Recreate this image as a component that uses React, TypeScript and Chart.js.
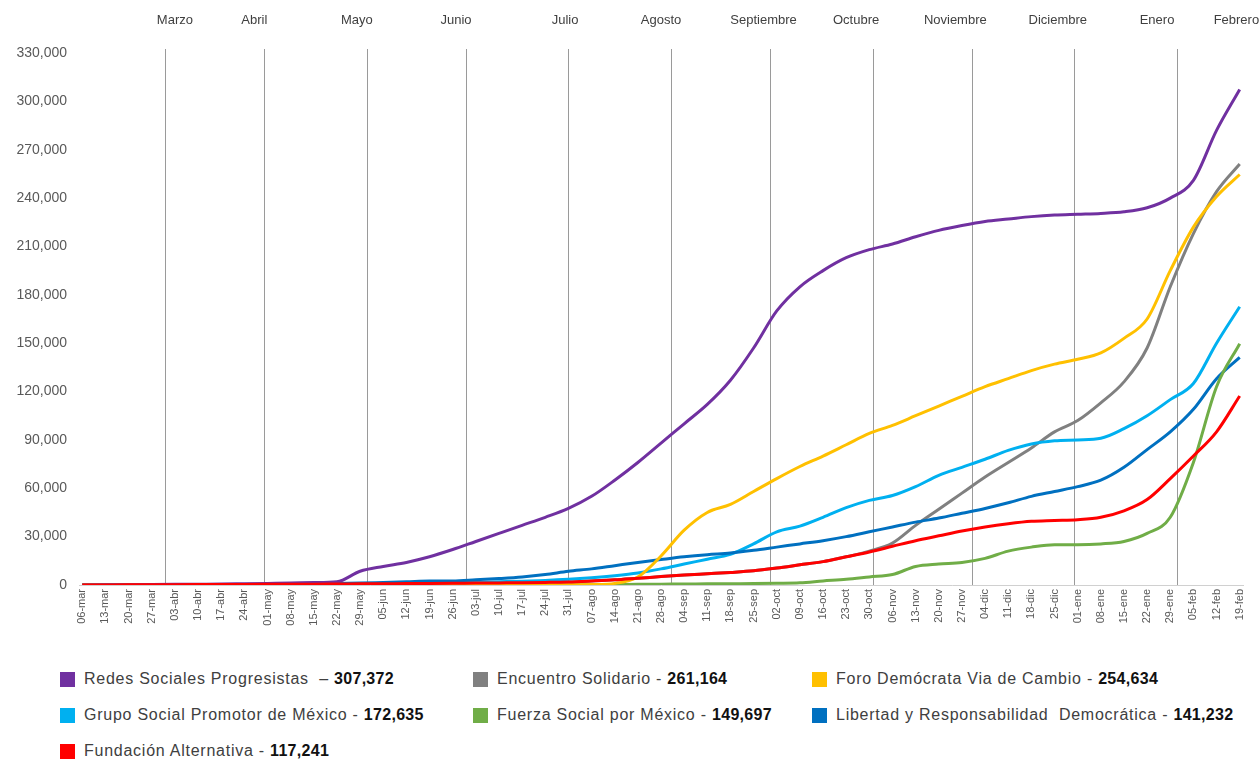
import React, { useEffect, useRef } from "react";
import { Chart, registerables } from "chart.js";

Chart.register(...registerables);

const FONT = "'Liberation Sans', Arial, sans-serif";

// Weekly date labels (2019-03-06 … 2020-02-19)
const weekLabels = [
  "06-mar", "13-mar", "20-mar", "27-mar", "03-abr", "10-abr", "17-abr", "24-abr",
  "01-may", "08-may", "15-may", "22-may", "29-may", "05-jun", "12-jun", "19-jun",
  "26-jun", "03-jul", "10-jul", "17-jul", "24-jul", "31-jul", "07-ago", "14-ago",
  "21-ago", "28-ago", "04-sep", "11-sep", "18-sep", "25-sep", "02-oct", "09-oct",
  "16-oct", "23-oct", "30-oct", "06-nov", "13-nov", "20-nov", "27-nov", "04-dic",
  "11-dic", "18-dic", "25-dic", "01-ene", "08-ene", "15-ene", "22-ene", "29-ene",
  "05-feb", "12-feb", "19-feb",
];

// Month names and the day (counted from 06-mar) of each month's last day
const monthNames = [
  "Marzo", "Abril", "Mayo", "Junio", "Julio", "Agosto", "Septiembre",
  "Octubre", "Noviembre", "Diciembre", "Enero", "Febrero",
];
const monthEndDays = [25, 55, 86, 116, 147, 178, 208, 239, 269, 300, 331];
const monthLabelDays = [28, 52, 83, 113, 146, 175, 206, 234, 264, 295, 325, 349];

const yTickStep = 30000;
const yMax = 330000;

// Series values (one per week label)
const redesSociales = [
  0, 100, 200, 300, 400, 500, 600, 800, 1000, 1200, 1500, 2000, 8500, 11500, 14000,
  17500, 22000, 27000, 32000, 37000, 42000, 47500, 55000, 65000, 76000, 88000,
  100000, 112000, 127000, 147000, 170000, 185000, 195000, 203000, 208000, 211500,
  216000, 220000, 223000, 225500, 227000, 228500, 229500, 230000, 230500, 231500,
  234000, 240000, 251000, 282000, 307372,
];
const fundacionAlternativa = [
  0, 50, 100, 150, 200, 250, 300, 350, 400, 450, 500, 600, 700, 800, 900, 1000,
  1100, 1200, 1300, 1400, 1600, 1900, 2500, 3200, 4200, 5200, 6200, 7000, 7800,
  8800, 10500, 12500, 14500, 17500, 20500, 24000, 27500, 30500, 33500, 36000,
  38000, 39500, 40000, 40500, 42000, 46000, 53000, 66000, 80000, 95000, 117241,
];
const encuentroSolidario = [
  0, 50, 100, 150, 200, 250, 300, 350, 400, 450, 500, 600, 700, 800, 900, 1000,
  1100, 1200, 1300, 1400, 1600, 1900, 2500, 3200, 4200, 5200, 6200, 7000, 7800,
  8800, 10500, 12500, 14500, 17500, 21000, 26000, 37000, 47000, 57000, 67000,
  76000, 85000, 95000, 102000, 113000, 126000, 147000, 185000, 218000, 244000,
  261164,
];
const foroDemocrata = [
  0, 0, 0, 0, 0, 0, 0, 0, 0, 0, 0, 0, 0, 0, 0, 0, 0, 0, 0, 0, 0, 100, 300, 1000,
  5000, 18000, 34000, 45000, 50000, 58000, 66000, 73500, 80000, 87000, 94000,
  99000, 105000, 111000, 117000, 123000, 128000, 133000, 137000, 140000, 144000,
  153000, 165000, 195000, 222000, 241000, 254634,
];
const grupoSocial = [
  0, 0, 0, 0, 0, 0, 0, 0, 0, 0, 0, 200, 400, 600, 800, 1000, 1300, 1600, 2000,
  2400, 2800, 3500, 4500, 5800, 7500, 10000, 13000, 16000, 19000, 25500, 33000,
  36500, 42000, 48000, 52500, 55500, 61000, 68000, 73000, 78000, 83500, 87500,
  89500, 90000, 91000, 97000, 105000, 115000, 125000, 150000, 172635,
];
const fuerzaSocial = [
  0, 0, 0, 0, 0, 0, 0, 0, 0, 0, 0, 0, 0, 0, 0, 0, 0, 0, 0, 0, 0, 100, 200, 300,
  400, 500, 600, 700, 800, 900, 1100, 1400, 2500, 3500, 5000, 6500, 11500, 13000,
  14000, 16500, 21000, 23500, 25000, 25000, 25500, 27000, 32000, 42000, 76000,
  123000, 149697,
];
const libertadResponsabilidad = [
  0, 0, 0, 0, 0, 0, 100, 200, 300, 500, 700, 900, 1200, 1600, 2000, 2500, 2500,
  3200, 4000, 5000, 6500, 8500, 10000, 12000, 14000, 15800, 17500, 18800, 19800,
  21500, 23500, 25500, 27500, 30000, 33000, 36000, 39000, 41500, 44500, 47500,
  51000, 55000, 58000, 61000, 65000, 73000, 84000, 95000, 109000, 128000, 141232,
];

type Series = { name: string; sep: string; color: string; values: number[]; order: number };

const series: Series[] = [
  { name: "Redes Sociales Progresistas", sep: "  \u2013 ", color: "#7030A0", values: redesSociales, order: 1 },
  { name: "Encuentro Solidario", sep: " - ", color: "#808080", values: encuentroSolidario, order: 6 },
  { name: "Foro Demócrata Via de Cambio", sep: " - ", color: "#FFC000", values: foroDemocrata, order: 2 },
  { name: "Grupo Social Promotor de México", sep: " - ", color: "#00B0F0", values: grupoSocial, order: 5 },
  { name: "Fuerza Social por México", sep: " - ", color: "#70AD47", values: fuerzaSocial, order: 3 },
  { name: "Libertad y Responsabilidad  Democrática", sep: " - ", color: "#0070C0", values: libertadResponsabilidad, order: 4 },
  { name: "Fundación Alternativa", sep: " - ", color: "#FF0000", values: fundacionAlternativa, order: 0 },
];

const legendCols = [60, 473, 812];
const legendRows = [679, 715, 751];

const monthPlugin = {
  id: "monthLines",
  beforeDatasetsDraw(chart: any) {
    const { ctx, chartArea, scales } = chart;
    ctx.save();
    ctx.strokeStyle = "#9a9a9a";
    ctx.lineWidth = 1;
    monthEndDays.forEach((d) => {
      const x = Math.round(scales.x.getPixelForValue(d)) + 0.5;
      ctx.beginPath();
      ctx.moveTo(x, chartArea.top - 4);
      ctx.lineTo(x, chartArea.bottom);
      ctx.stroke();
    });
    ctx.restore();
  },
  afterDraw(chart: any) {
    const { ctx, scales } = chart;
    ctx.save();
    ctx.font = `13px ${FONT}`;
    ctx.fillStyle = "#404040";
    ctx.textAlign = "center";
    ctx.textBaseline = "middle";
    monthNames.forEach((m, i) => {
      const x = scales.x.getPixelForValue(monthLabelDays[i]);
      ctx.fillText(m, x, 20);
    });
    ctx.restore();
  },
};

function ChartCanvas() {
  const ref = useRef<HTMLCanvasElement | null>(null);
  useEffect(() => {
    if (!ref.current) return;
    const chart = new Chart(ref.current, {
      type: "line",
      data: {
        datasets: series.map((s) => ({
          label: s.name,
          data: s.values.map((v, i) => ({ x: i * 7, y: v })),
          borderColor: s.color,
          backgroundColor: s.color,
          borderWidth: 3,
          pointRadius: 0,
          fill: false,
          cubicInterpolationMode: "monotone" as const,
          order: s.order,
        })),
      },
      options: {
        responsive: false,
        animation: false,
        layout: { padding: { top: 53, right: 16, left: 0, bottom: 0 } },
        plugins: { legend: { display: false }, tooltip: { enabled: false } },
        scales: {
          x: {
            type: "linear",
            min: -1,
            max: 351,
            afterBuildTicks: (scale: any) => {
              scale.ticks = weekLabels.map((_, i) => ({ value: i * 7 }));
            },
            afterFit: (scale: any) => {
              scale.height = 65;
            },
            ticks: {
              autoSkip: false,
              minRotation: 90,
              maxRotation: 90,
              padding: 4,
              color: "#595959",
              font: { family: FONT, size: 11 },
              callback: (v: any) => weekLabels[Math.round(Number(v) / 7)] ?? "",
            },
            grid: { display: false, drawTicks: false },
            border: { display: true, color: "#d0d0d0", width: 1 },
          },
          y: {
            min: 0,
            max: yMax,
            afterFit: (scale: any) => {
              scale.width = 79;
            },
            ticks: {
              stepSize: yTickStep,
              padding: 12,
              color: "#595959",
              font: { family: FONT, size: 14 },
              callback: (v: any) => Number(v).toLocaleString("en-US"),
            },
            grid: { display: false, drawTicks: false },
            border: { display: false },
          },
        },
      },
      plugins: [monthPlugin],
    });
    return () => chart.destroy();
  }, []);
  return <canvas ref={ref} width={1259} height={650} style={{ position: "absolute", left: 0, top: 0 }} />;
}

export default function App() {
  return (
    <div style={{ position: "absolute", left: 0, top: 0, width: 1259, height: 763, background: "#fff", overflow: "hidden" }}>
      <ChartCanvas />
      {series.map((s, i) => {
        const col = i % 3;
        const row = Math.floor(i / 3);
        const last = s.values[s.values.length - 1];
        return (
          <div
            key={s.name}
            style={{
              position: "absolute",
              left: legendCols[col],
              top: legendRows[row] - 10,
              height: 20,
              display: "flex",
              alignItems: "center",
              fontFamily: FONT,
              fontSize: 16,
              letterSpacing: "0.75px",
              color: "#404040",
              whiteSpace: "pre",
            }}
          >
            <span style={{ display: "inline-block", width: 15, height: 15, background: s.color, marginRight: 9 }} />
            <span>
              {s.name}
              {s.sep}
              <b style={{ color: "#111", letterSpacing: "0.3px" }}>{last.toLocaleString("en-US")}</b>
            </span>
          </div>
        );
      })}
    </div>
  );
}
